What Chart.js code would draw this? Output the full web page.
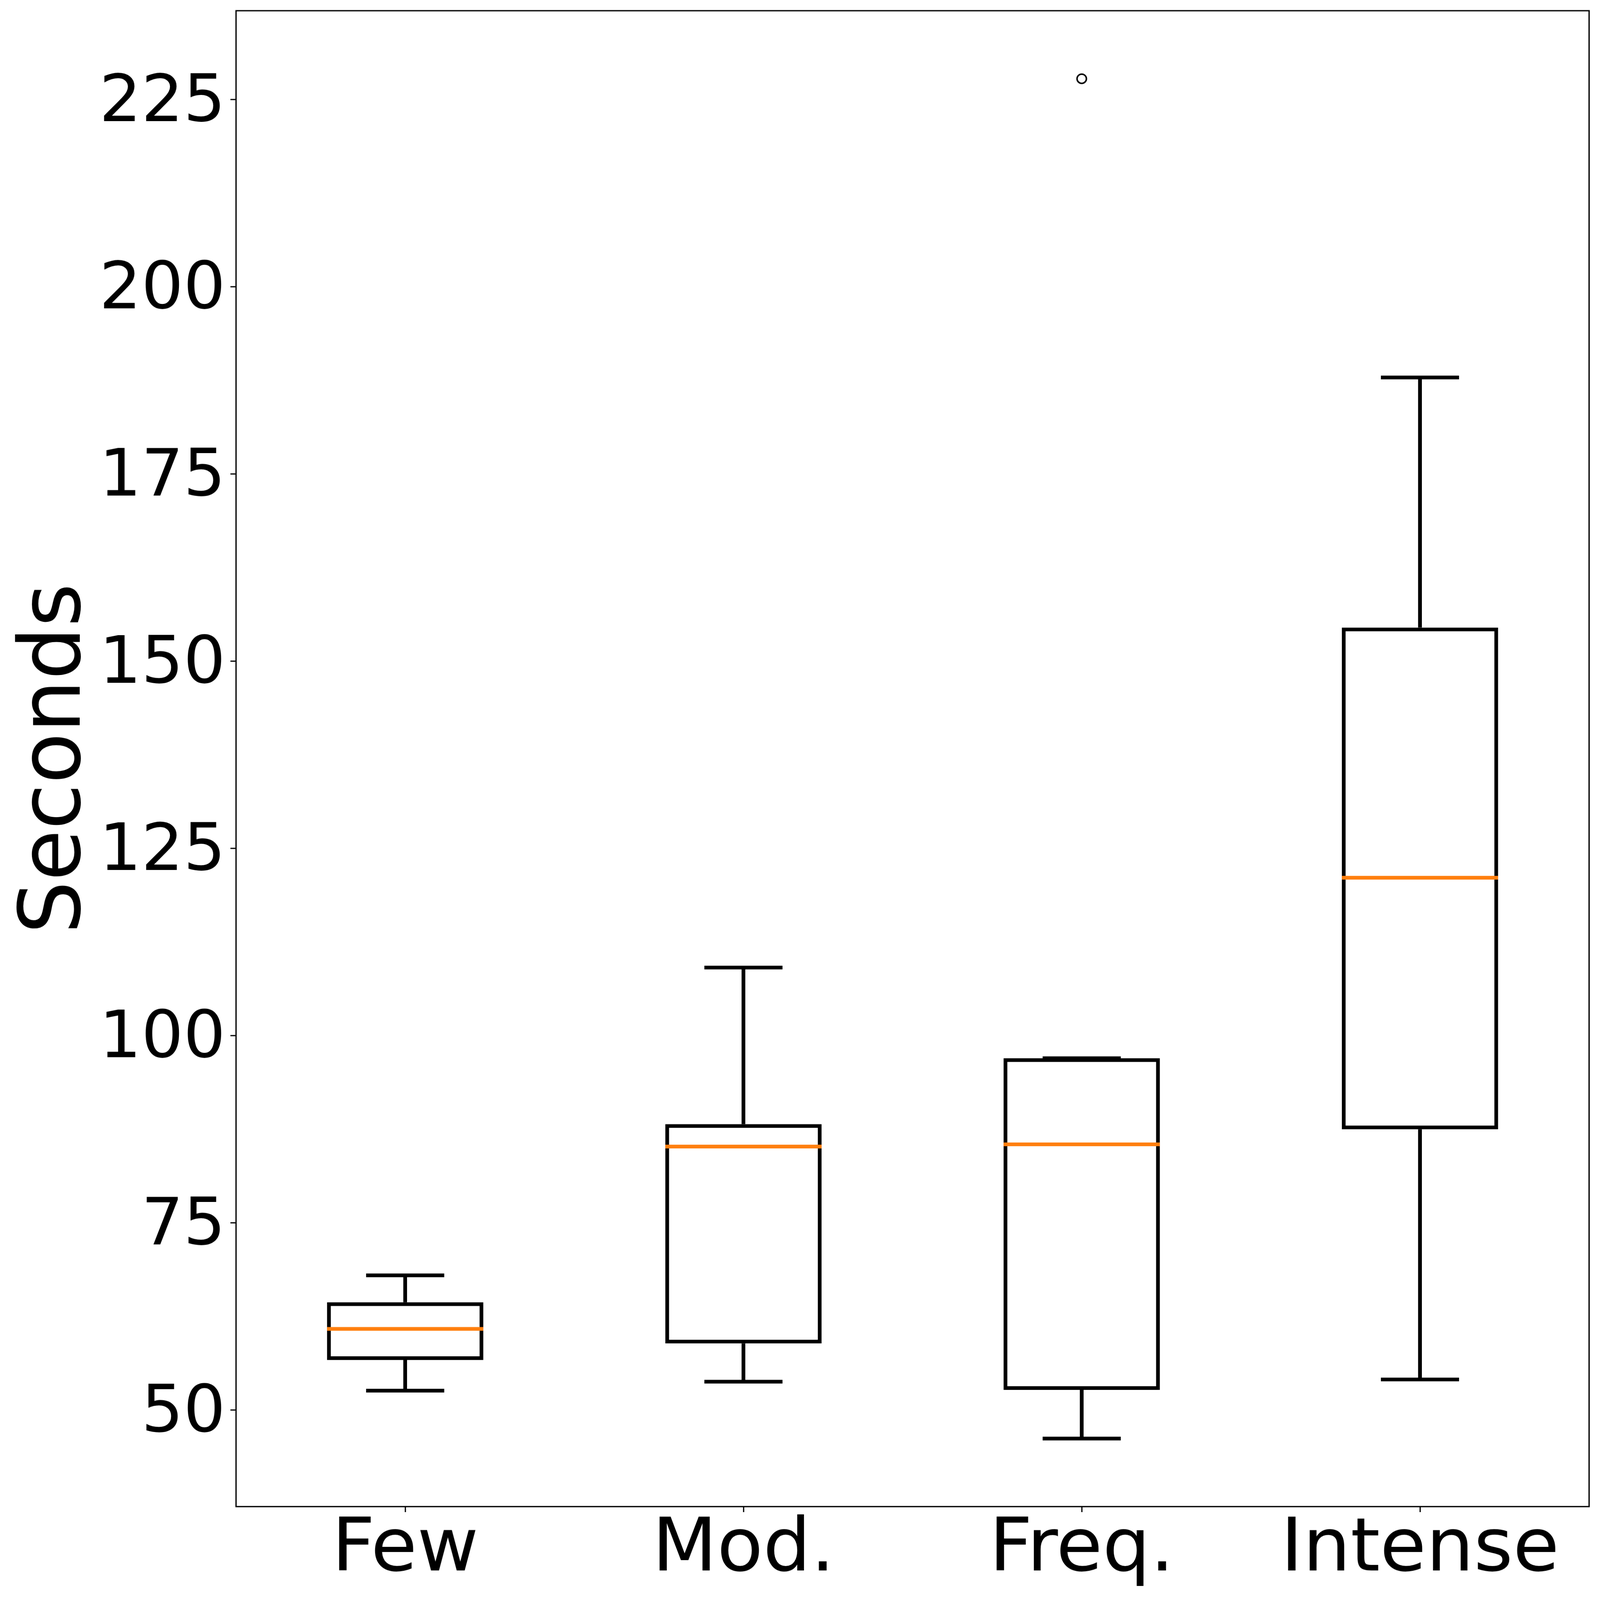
<!DOCTYPE html>
<html>
<head>
<meta charset="utf-8">
<script src="https://cdn.jsdelivr.net/npm/chart.js@4/dist/chart.umd.min.js"></script>
<style>
  html, body { margin: 0; padding: 0; background: #ffffff; overflow: hidden; }
  #wrap { width: 4257px; height: 4333px; transform-origin: 0 0; }
  canvas { display: block; }
</style>
</head>
<body>
<div id="wrap"><canvas id="c" width="4257" height="4333" style="width:4257px;height:4333px"></canvas></div>
<script>
// ---- data ----
const categories   = ['Few', 'Mod.', 'Freq.', 'Intense'];
const whiskerLow   = [52.6, 53.8, 46.2, 54.1];
const quartile1    = [56.7, 58.9, 52.7, 87.5];
const medians      = [60.85, 85.2, 85.5, 121.1];
const quartile3    = [64.4, 88.2, 97.0, 154.5];
const whiskerHigh  = [68.0, 109.1, 97.0, 187.9];
const outliers     = [null, null, 227.8, null];
const yTickValues  = [50, 75, 100, 125, 150, 175, 200, 225];
const yLabel       = 'Seconds';

// fit the 4257x4333 drawing into whatever window the page gets
(function fit() {
  const sx = window.innerWidth / 4257, sy = window.innerHeight / 4333;
  document.getElementById('wrap').style.transform = 'scale(' + sx + ',' + sy + ')';
})();

// axis limits like matplotlib autoscale (5% margin)
const dataMin = Math.min(...whiskerLow, ...outliers.filter(v => v !== null));
const dataMax = Math.max(...whiskerHigh, ...outliers.filter(v => v !== null));
const margin = (dataMax - dataMin) * 0.05;

const FONT = "'DejaVu Sans', sans-serif";
const LW = 10;

const boxPlugin = {
  id: 'boxParts',
  afterDatasetsDraw(chart) {
    const { ctx } = chart;
    const y = chart.scales.y;
    const meta = chart.getDatasetMeta(0);
    ctx.save();
    ctx.lineCap = 'butt';
    meta.data.forEach((bar, i) => {
      const props = bar.getProps(['x', 'width'], true);
      const cx = props.x, w = props.width, capHalf = w / 4;
      ctx.strokeStyle = '#000000';
      ctx.lineWidth = LW;
      const yq3 = y.getPixelForValue(quartile3[i]);
      const yq1 = y.getPixelForValue(quartile1[i]);
      const yh = y.getPixelForValue(whiskerHigh[i]);
      const yl = y.getPixelForValue(whiskerLow[i]);
      ctx.beginPath();
      ctx.moveTo(cx, yq3); ctx.lineTo(cx, yh);
      ctx.moveTo(cx, yq1); ctx.lineTo(cx, yl);
      ctx.moveTo(cx - capHalf, yh); ctx.lineTo(cx + capHalf, yh);
      ctx.moveTo(cx - capHalf, yl); ctx.lineTo(cx + capHalf, yl);
      ctx.stroke();
      ctx.strokeStyle = '#ff7f0e';
      ctx.beginPath();
      const ym = y.getPixelForValue(medians[i]);
      ctx.moveTo(cx - w / 2, ym); ctx.lineTo(cx + w / 2, ym);
      ctx.stroke();
    });
    ctx.restore();
  },
  afterDraw(chart) {
    const { ctx, chartArea: a } = chart;
    ctx.save();
    ctx.strokeStyle = '#000000';
    ctx.lineWidth = 3.5;
    ctx.strokeRect(a.left, a.top, a.right - a.left, a.bottom - a.top);
    ctx.restore();
  }
};

new Chart(document.getElementById('c'), {
  data: {
    labels: categories,
    datasets: [
      { type: 'bar', data: categories.map((_, i) => [quartile1[i], quartile3[i]]),
        backgroundColor: 'rgba(0,0,0,0)', borderColor: '#000000', borderWidth: LW, borderSkipped: false,
        barPercentage: 0.462, categoryPercentage: 1.0, order: 2 },
      { type: 'line', data: outliers, showLine: false, pointStyle: 'circle', pointRadius: 12.5,
        pointBorderWidth: 4, pointBorderColor: '#000000', pointBackgroundColor: 'rgba(0,0,0,0)', order: 1 }
    ]
  },
  options: {
    responsive: false, devicePixelRatio: 1, animation: false, events: [],
    layout: { padding: { top: 29, right: 29, left: 0, bottom: 0 } },
    plugins: { legend: { display: false }, tooltip: { enabled: false } },
    scales: {
      x: {
        type: 'category', offset: true,
        grid: { display: true, offset: false, drawOnChartArea: false, drawTicks: true, tickLength: 15, tickWidth: 3.3, tickColor: '#000000' },
        border: { display: false },
        ticks: { color: '#000000', font: { family: FONT, size: 200, lineHeight: 1.2 }, padding: -14, maxRotation: 0, autoSkip: false },
        afterFit(s) { s.height = 253; s.paddingLeft = 0; s.paddingRight = 0; }
      },
      y: {
        type: 'linear', min: dataMin - margin, max: dataMax + margin,
        afterBuildTicks(s) { s.ticks = yTickValues.map(v => ({ value: v })); },
        grid: { display: true, drawOnChartArea: false, drawTicks: true, tickLength: 15, tickWidth: 3.3, tickColor: '#000000' },
        border: { display: false },
        ticks: { color: '#000000', font: { family: FONT, size: 176, lineHeight: 1.2 }, padding: 13, labelOffset: 12 },
        title: { display: true, text: yLabel, color: '#000000', font: { family: FONT, size: 226, lineHeight: 1.2 }, padding: { top: 18, bottom: 0 } },
        afterFit(s) { s.width = 628; s.paddingTop = 0; s.paddingBottom = 0; }
      }
    }
  },
  plugins: [boxPlugin]
});
</script>
</body>
</html>
